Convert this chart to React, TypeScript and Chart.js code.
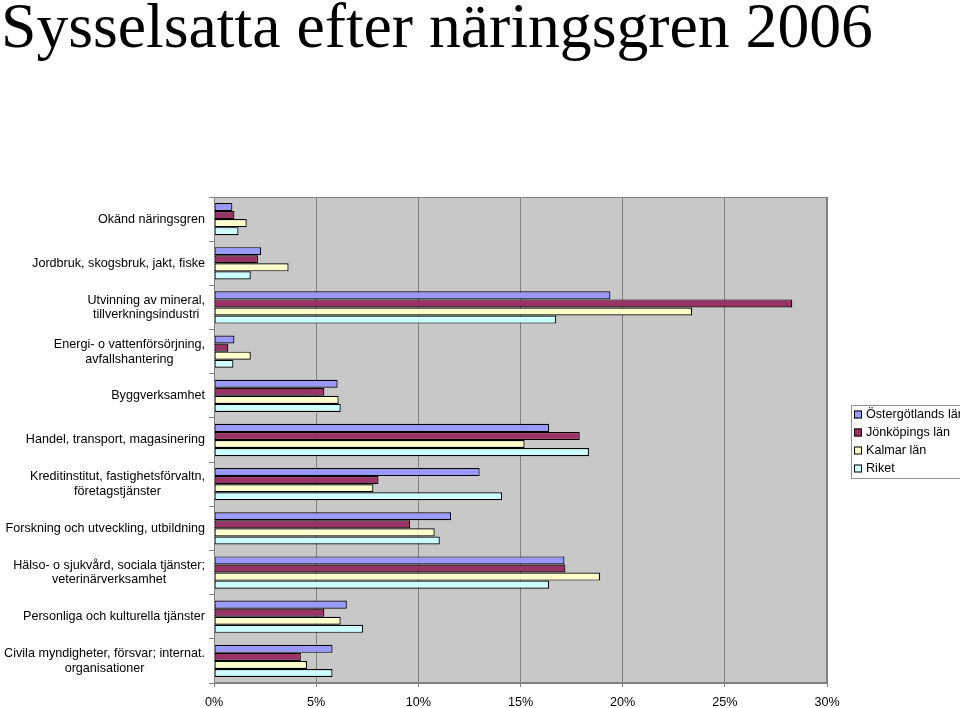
import React, { useEffect, useRef } from "react";
import { Chart, registerables } from "chart.js";

Chart.register(...registerables);

const TITLE = "Sysselsatta efter näringsgren 2006";

const categories: string[][] = [
  ["Okänd näringsgren"],
  ["Jordbruk, skogsbruk, jakt, fiske"],
  ["Utvinning av mineral,", "tillverkningsindustri"],
  ["Energi- o vattenförsörjning,", "avfallshantering"],
  ["Byggverksamhet"],
  ["Handel, transport, magasinering"],
  ["Kreditinstitut, fastighetsförvaltn,", "företagstjänster"],
  ["Forskning och utveckling, utbildning"],
  ["Hälso- o sjukvård, sociala tjänster;", "veterinärverksamhet"],
  ["Personliga och kulturella tjänster"],
  ["Civila myndigheter, försvar; internat.", "organisationer"],
];

const seriesNames = ["Östergötlands län", "Jönköpings län", "Kalmar län", "Riket"];

const ostergotland = [0.9, 2.3, 19.4, 1.0, 6.05, 16.4, 13.0, 11.6, 17.15, 6.5, 5.8];
const jonkoping = [1.0, 2.15, 28.3, 0.7, 5.4, 17.9, 8.05, 9.6, 17.2, 5.4, 4.25];
const kalmar = [1.6, 3.65, 23.4, 1.8, 6.1, 15.2, 7.8, 10.8, 18.9, 6.2, 4.55];
const riket = [1.2, 1.8, 16.75, 0.95, 6.2, 18.35, 14.1, 11.05, 16.4, 7.3, 5.8];

const colors = ["#9999ff", "#993366", "#ffffcc", "#ccffff"];

const xMin = 0;
const xMax = 30;
const xStep = 5;

const SANS = "'Liberation Sans', Arial, sans-serif";

export default function App() {
  const ref = useRef<HTMLCanvasElement>(null);

  useEffect(() => {
    const canvas = ref.current;
    if (!canvas) return;

    const decor = {
      id: "decor",
      beforeDraw(chart: any) {
        const { ctx, chartArea } = chart;
        ctx.save();
        ctx.fillStyle = "#ffffff";
        ctx.fillRect(0, 0, chart.width, chart.height);
        ctx.fillStyle = "#c8c8c8";
        ctx.fillRect(chartArea.left, chartArea.top, chartArea.right - chartArea.left, chartArea.bottom - chartArea.top);
        ctx.restore();
      },
      afterDraw(chart: any) {
        const { ctx, chartArea } = chart;
        const yScale = chart.scales.y;
        ctx.save();
        // plot border
        ctx.strokeStyle = "#808080";
        ctx.lineWidth = 1;
        ctx.strokeRect(chartArea.left + 0.5, chartArea.top + 0.5, chartArea.right - chartArea.left - 1, chartArea.bottom - chartArea.top - 1);

        // title
        ctx.fillStyle = "#000";
        ctx.font = "63.7px 'Liberation Serif', 'Times New Roman', serif";
        ctx.textAlign = "left";
        ctx.textBaseline = "alphabetic";
        ctx.fillText(TITLE, 1, 47);

        // category labels
        ctx.font = "12.6px " + SANS;
        ctx.textBaseline = "middle";
        ctx.textAlign = "center";
        const lh = 14.8;
        categories.forEach((lines, i) => {
          const y = yScale.getPixelForValue(i);
          const maxW = Math.max(...lines.map((l) => ctx.measureText(l).width));
          const cx = 205 - maxW / 2;
          const y0 = y - ((lines.length - 1) * lh) / 2;
          lines.forEach((l, k) => ctx.fillText(l, cx, y0 + k * lh));
        });

        // legend
        const lx = 851, ly = 405, lw = 130, lhh = 73;
        ctx.fillStyle = "#ffffff";
        ctx.fillRect(lx, ly, lw, lhh);
        ctx.strokeStyle = "#909090";
        ctx.strokeRect(lx + 0.5, ly + 0.5, lw, lhh);
        ctx.font = "12.6px " + SANS;
        ctx.textAlign = "left";
        seriesNames.forEach((name, i) => {
          const cy = ly + 9.5 + i * 18;
          ctx.fillStyle = colors[i];
          ctx.fillRect(854, cy - 4, 8, 8);
          ctx.strokeStyle = "#000";
          ctx.strokeRect(854.5, cy - 3.5, 7, 7);
          ctx.fillStyle = "#000";
          ctx.fillText(name, 866, cy);
        });
        ctx.restore();
      },
    };

    const chart = new Chart(canvas, {
      type: "bar",
      data: {
        labels: categories.map((c) => c.join(" ")),
        datasets: seriesNames.map((name, i) => ({
          label: name,
          data: [ostergotland, jonkoping, kalmar, riket][i],
          backgroundColor: colors[i],
          borderColor: "#000000",
          borderWidth: 1.2,
          borderSkipped: false,
          categoryPercentage: 0.73,
          barPercentage: 1,
        })),
      },
      options: {
        indexAxis: "y",
        responsive: false,
        animation: false,
        maintainAspectRatio: false,
        layout: { padding: { top: 197, right: 133, bottom: 0, left: 0 } },
        plugins: {
          legend: { display: false },
          title: { display: false },
          tooltip: { enabled: false },
        },
        scales: {
          x: {
            type: "linear",
            min: xMin,
            max: xMax,
            ticks: {
              stepSize: xStep,
              color: "#000",
              font: { family: SANS, size: 12.6 },
              padding: 8,
              callback: (v: any) => v + "%",
            },
            grid: { color: "#808080", tickLength: 4, lineWidth: 1 },
            border: { color: "#808080" },
            afterFit: (s: any) => {
              s.height = 25;
            },
          },
          y: {
            type: "category",
            offset: true,
            ticks: { display: false },
            grid: { drawOnChartArea: false, offset: true, tickLength: 5, color: "#808080" },
            border: { color: "#808080" },
            afterFit: (s: any) => {
              s.width = 214;
            },
          },
        },
      },
      plugins: [decor],
    } as any);

    return () => chart.destroy();
  }, []);

  return (
    <div style={{ position: "absolute", left: 0, top: 0, width: 960, height: 708, background: "#fff", overflow: "hidden" }}>
      <canvas ref={ref} width={960} height={708} style={{ display: "block" }} />
    </div>
  );
}
